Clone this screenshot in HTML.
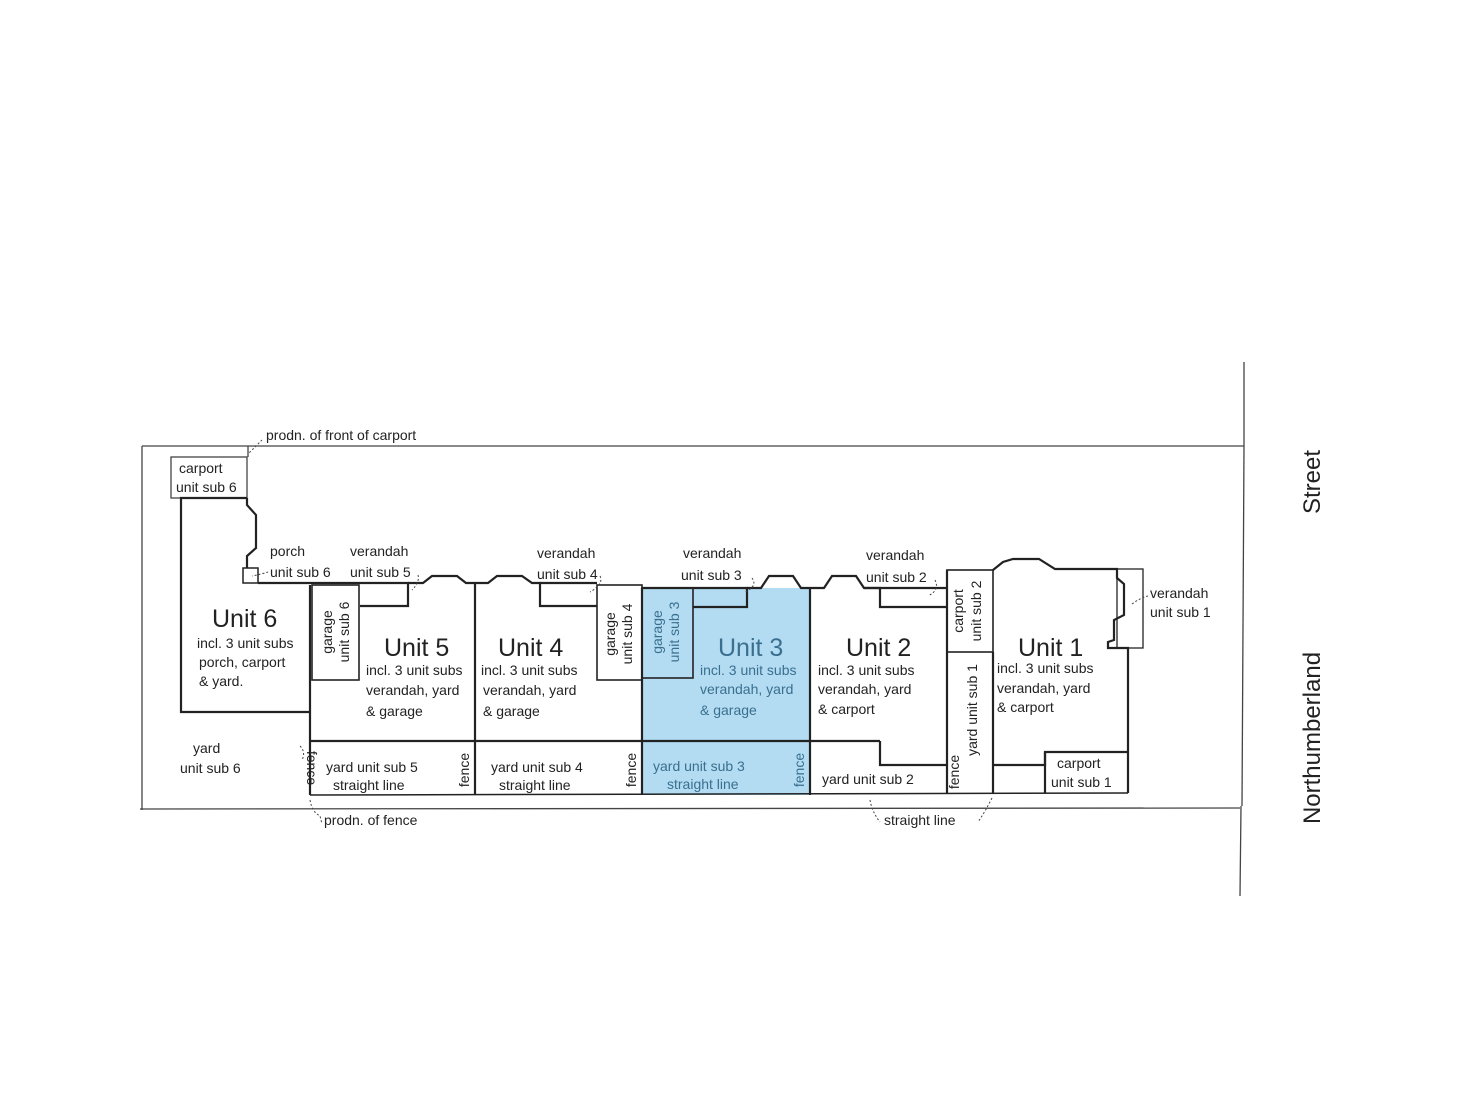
<!DOCTYPE html>
<html><head><meta charset="utf-8"><style>
html,body{margin:0;padding:0;background:#fff;}
svg{display:block;}
text{font-family:"Liberation Sans",sans-serif;fill:#222;}
.s{font-size:14px;}
.u{font-size:25px;}
</style></head><body>
<svg width="1472" height="1104" viewBox="0 0 1472 1104" xmlns="http://www.w3.org/2000/svg">
<rect x="642" y="588" width="168" height="207" fill="#b3dcf2"/>
<g fill="none" stroke="#444" stroke-width="1.3">
<line x1="142" y1="446" x2="1244" y2="446"/>
<line x1="142" y1="446" x2="142" y2="810"/>
<line x1="140" y1="809" x2="1240" y2="808"/>
<line x1="1244" y1="362" x2="1244" y2="446"/>
<line x1="1241" y1="806" x2="1240" y2="896"/>
<line x1="1244" y1="446" x2="1242" y2="806"/>
<rect x="171" y="457" width="76" height="41"/>
<line x1="248" y1="446" x2="248" y2="457"/>
</g>
<g fill="none" stroke="#222" stroke-width="2.2">
<path d="M247 498 L181 498 L181 712 L310 712"/>
<path d="M247 498 L247 505 L256 515 L256 548 L247 556 L247 568"/>
<rect x="243" y="568" width="15" height="15" stroke-width="1.5"/>
<path d="M258 583 L408 583 L408 606 L360 606"/>
<path d="M408 583 L423 583 L432 576 L457 576 L466 583 L488 583 L497 576 L522 576 L532 583 L540 583 L540 606 L597 606"/>
<path d="M540 583 L597 583"/>
<rect x="312" y="585" width="47" height="95" stroke-width="1.6"/>
<rect x="597" y="585" width="45" height="95" stroke-width="1.6"/>
<rect x="642" y="588" width="51" height="90" stroke-width="1.6"/>
<line x1="310" y1="585" x2="310" y2="795"/>
<line x1="475" y1="583" x2="475" y2="795"/>
<line x1="642" y1="588" x2="642" y2="795"/>
<line x1="810" y1="588" x2="810" y2="795"/>
<path d="M642 588 L747 588 L747 607 L693 607"/>
<path d="M747 588 L761 588 L769 576 L793 576 L801 588 L824 588 L832 576 L856 576 L864 588 L880 588 L880 607 L947 607"/>
<path d="M864 588 L947 588"/>
<line x1="310" y1="741" x2="880" y2="741"/>
<path d="M880 741 L880 765 L947 765"/>
<line x1="947" y1="570" x2="947" y2="793"/>
<rect x="947" y="570" width="46" height="82" stroke-width="1.6"/>
<line x1="993" y1="652" x2="993" y2="793"/>
<path d="M993 570 L1003 562 L1013 559 L1039 559 L1055 569 L1117 569 L1117 578 L1124 584 L1124 615 L1114 620 L1114 640 L1108 642 L1108 648 L1128 648 L1128 793"/>
<path d="M993 765 L1045 765 L1045 752 L1128 752"/>
<line x1="1045" y1="752" x2="1045" y2="793"/>
<rect x="1117" y="569" width="26" height="79" stroke-width="1.3"/>
<line x1="310" y1="795" x2="1128" y2="793" stroke-width="1.5"/>
</g>
<g fill="none" stroke="#444" stroke-width="1" stroke-dasharray="2,2">
<path d="M262 440 Q256 446 248 454"/>
<path d="M268 572 Q262 574 252 576"/>
<path d="M418 575 Q420 582 412 590"/>
<path d="M600 576 Q604 584 590 592"/>
<path d="M752 578 Q758 586 745 592"/>
<path d="M935 580 Q940 590 928 596"/>
<path d="M1148 596 Q1140 598 1132 604"/>
<path d="M300 746 Q306 752 302 760"/>
<path d="M310 800 Q312 812 320 816 L322 824"/>
<path d="M870 800 Q872 812 880 822"/>
<path d="M992 798 Q985 812 978 822"/>
</g>
<g class="s">
<text x="266" y="440">prodn. of front of carport</text>
<text x="179" y="473">carport</text>
<text x="176" y="492">unit sub 6</text>
<text x="270" y="556">porch</text>
<text x="270" y="577">unit sub 6</text>
<text x="350" y="556">verandah</text>
<text x="350" y="577">unit sub 5</text>
<text x="537" y="558">verandah</text>
<text x="537" y="579">unit sub 4</text>
<text x="683" y="558">verandah</text>
<text x="681" y="580">unit sub 3</text>
<text x="866" y="560">verandah</text>
<text x="866" y="582">unit sub 2</text>
<text x="1150" y="598">verandah</text>
<text x="1150" y="617">unit sub 1</text>
<text x="197" y="648">incl. 3 unit subs</text>
<text x="199" y="667">porch, carport</text>
<text x="199" y="686">&amp; yard.</text>
<text x="366" y="675">incl. 3 unit subs</text>
<text x="366" y="695">verandah, yard</text>
<text x="366" y="716">&amp; garage</text>
<text x="481" y="675">incl. 3 unit subs</text>
<text x="483" y="695">verandah, yard</text>
<text x="483" y="716">&amp; garage</text>
<text x="700" y="675" style="fill:#3a6f8f">incl. 3 unit subs</text>
<text x="700" y="694" style="fill:#3a6f8f">verandah, yard</text>
<text x="700" y="715" style="fill:#3a6f8f">&amp; garage</text>
<text x="818" y="675">incl. 3 unit subs</text>
<text x="818" y="694">verandah, yard</text>
<text x="818" y="714">&amp; carport</text>
<text x="997" y="673">incl. 3 unit subs</text>
<text x="997" y="693">verandah, yard</text>
<text x="997" y="712">&amp; carport</text>
<text x="193" y="753">yard</text>
<text x="180" y="773">unit sub 6</text>
<text x="326" y="772">yard unit sub 5</text>
<text x="333" y="790">straight line</text>
<text x="491" y="772">yard unit sub 4</text>
<text x="499" y="790">straight line</text>
<text x="653" y="771" style="fill:#3a6f8f">yard unit sub 3</text>
<text x="667" y="789" style="fill:#3a6f8f">straight line</text>
<text x="822" y="784">yard unit sub 2</text>
<text x="1057" y="768">carport</text>
<text x="1051" y="787">unit sub 1</text>
<text x="324" y="825">prodn. of fence</text>
<text x="884" y="825">straight line</text>
<text transform="translate(307,768) rotate(90)" text-anchor="middle">fence</text>
<text transform="translate(469,770) rotate(-90)" text-anchor="middle">fence</text>
<text transform="translate(636,770) rotate(-90)" text-anchor="middle">fence</text>
<text transform="translate(804,770) rotate(-90)" text-anchor="middle" style="fill:#3a6f8f">fence</text>
<text transform="translate(959,772) rotate(-90)" text-anchor="middle">fence</text>
<text transform="translate(332,632) rotate(-90)" text-anchor="middle">garage</text>
<text transform="translate(349,632) rotate(-90)" text-anchor="middle">unit sub 6</text>
<text transform="translate(615,634) rotate(-90)" text-anchor="middle">garage</text>
<text transform="translate(632,634) rotate(-90)" text-anchor="middle">unit sub 4</text>
<text transform="translate(662,632) rotate(-90)" text-anchor="middle" style="fill:#3a6f8f">garage</text>
<text transform="translate(679,632) rotate(-90)" text-anchor="middle" style="fill:#3a6f8f">unit sub 3</text>
<text transform="translate(963,611) rotate(-90)" text-anchor="middle">carport</text>
<text transform="translate(981,611) rotate(-90)" text-anchor="middle">unit sub 2</text>
<text transform="translate(977,710) rotate(-90)" text-anchor="middle">yard unit sub 1</text>
</g>
<g class="u">
<text x="212" y="627">Unit 6</text>
<text x="384" y="656">Unit 5</text>
<text x="498" y="656">Unit 4</text>
<text x="718" y="656" style="fill:#3a6f8f">Unit 3</text>
<text x="846" y="656">Unit 2</text>
<text x="1018" y="656">Unit 1</text>
<text transform="translate(1320,482) rotate(-90)" text-anchor="middle" style="font-size:24px">Street</text>
<text transform="translate(1320,738) rotate(-90)" text-anchor="middle" style="font-size:24px">Northumberland</text>
</g>
</svg>
</body></html>
